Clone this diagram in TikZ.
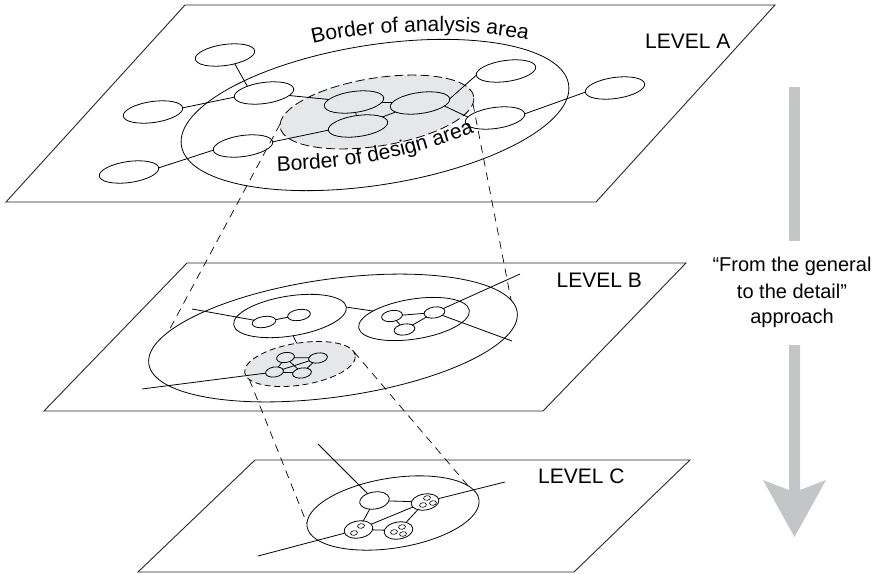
\documentclass[tikz,border=0pt]{standalone}
\usepackage{fontspec}
\setmainfont{Liberation Sans}
\usetikzlibrary{shapes.geometric,decorations.text}
\definecolor{shade}{RGB}{230,231,232}
\definecolor{arrowgray}{RGB}{196,197,199}
\begin{document}
\begin{tikzpicture}[x=1pt,y=-1pt,
  plane/.style={draw=black!85, line width=0.9pt, line join=miter},
  area/.style={ellipse, draw, line width=0.8pt, inner sep=0pt, outer sep=0pt},
  design/.style={area, dash pattern=on 9pt off 4pt, fill=shade},
  designsmall/.style={area, dash pattern=on 6pt off 3.5pt, fill=shade},
  elem/.style={ellipse, draw, line width=0.8pt, inner sep=0pt, outer sep=0pt,
               minimum width=60, minimum height=21, rotate=8},
  belem/.style={ellipse, draw, line width=0.8pt, inner sep=0pt, outer sep=0pt,
               minimum width=21, minimum height=11, rotate=9},
  celem/.style={ellipse, draw, line width=0.8pt, inner sep=0pt, outer sep=0pt,
               minimum width=29, minimum height=17, rotate=9},
  ring/.style={ellipse, draw, line width=0.6pt, inner sep=0pt, outer sep=0pt,
               minimum width=7, minimum height=4.6, rotate=9},
  link/.style={line width=0.8pt},
  proj/.style={line width=0.7pt, dash pattern=on 8pt off 6pt},
  lbl/.style={font=\fontsize{21}{25}\selectfont, inner sep=0pt},
  txt/.style={font=\fontsize{20}{24}\selectfont, inner sep=0pt},
]
\useasboundingbox (0,0) rectangle (883,573);

% ---------------- Level A ----------------
\draw[plane] (185,5) -- (775,5) -- (596,202) -- (6,202) -- cycle;
\node[lbl, anchor=base west] (labA) at (645,48) {LEVEL A};

\node[area, minimum width=392, minimum height=140, rotate=9] (AA) at (375,115) {};
\node[design, minimum width=196, minimum height=68, rotate=9] (DA) at (377,112) {};

\node[elem] (e1) at (225,55) {};
\node[elem] (e2) at (264,93) {};
\node[elem] (e3) at (153,112) {};
\node[elem] (e4) at (243,146) {};
\node[elem] (e5) at (129,172) {};
\node[elem] (d1) at (354,102) {};
\node[elem] (d2) at (420,103) {};
\node[elem] (d3) at (358,126) {};
\node[elem] (e6) at (506,71) {};
\node[elem] (e7) at (495,118) {};
\node[elem] (e8) at (615,88) {};

\draw[link] (e1.-50) -- (e2.150);
\draw[link] (e3.east) -- (e2.west);
\draw[link] (e2) -- (d1);
\draw[link] (d1) -- (d2);
\draw[link] (d1) -- (d3);
\draw[link] (d3) -- (d2);
\draw[link] (e4.east) -- (d3.west);
\draw[link] (e5.east) -- (e4.west);
\draw[link] (d2.east) -- (e6.west);
\draw[link] (d2.-15) -- (e7.170);
\draw[link] (e7.east) -- (e8.west);

\path[decorate, decoration={text along path,
  text={|\fontsize{21}{25}\selectfont|Border of analysis area}}]
  (313,44) .. controls (370,30) and (470,25) .. (540,43);
\path[decorate, decoration={text along path,
  text={|\fontsize{21}{25}\selectfont|Border of design area}}]
  (277,171) .. controls (340,169) and (395,162) .. (476,132);

% ---------------- Level B ----------------
\draw[plane] (187,263) -- (686,263) -- (543,411) -- (44,411) -- cycle;
\node[lbl, anchor=base east] (labB) at (642,287) {LEVEL B};

\node[area, minimum width=372, minimum height=118, rotate=8] (BA) at (333,338) {};
\node[designsmall, minimum width=112, minimum height=42, rotate=9] (BS) at (300,364) {};
\node[area, minimum width=114, minimum height=40, rotate=9] (BL) at (290,316) {};
\node[area, minimum width=112, minimum height=40, rotate=9] (BR) at (414,319) {};

\node[belem, minimum width=24] (l1) at (264,322) {};
\node[belem, minimum width=23] (l2) at (299,315) {};
\node[belem] (r1) at (392,316) {};
\node[belem] (r2) at (404.5,329.5) {};
\node[belem] (r3) at (434.5,312.5) {};
\node[belem, minimum width=18, minimum height=10] (s1) at (285.5,357.5) {};
\node[belem, minimum width=19, minimum height=10] (s2) at (318,358) {};
\node[belem, minimum width=18, minimum height=10] (s3) at (274.5,372) {};
\node[belem, minimum width=19, minimum height=10] (s4) at (302,373) {};

\coordinate (bin) at (192,309);
\coordinate (bout1) at (520,274);
\coordinate (bout2) at (512,341);
\coordinate (bout3) at (142,389);

\draw[link] (bin) -- (l1);
\draw[link] (l1) -- (l2);
\draw[link] (BL.east) -- (BR.160);
\draw[link] (BL.south) -- (BS.north);
\draw[link] (r1) -- (r3);
\draw[link] (r1) -- (r2);
\draw[link] (r2) -- (r3);
\draw[link] (r3) -- (bout1);
\draw[link] (r3) -- (bout2);
\draw[link] (s1) -- (s2);
\draw[link] (s1) -- (s3);
\draw[link] (s2) -- (s4);
\draw[link] (s3) -- (s4);
\draw[link] (s1) -- (s4);
\draw[link] (s2) -- (s3);
\draw[link] (s3) -- (bout3);

% ---------------- Level C ----------------
\draw[plane] (255,460) -- (690,460) -- (574,572) -- (138,572) -- cycle;
\node[lbl, anchor=base west] (labC) at (538,483) {LEVEL C};

\node[area, minimum width=174, minimum height=70, rotate=9] (CA) at (393,513) {};

\node[celem, minimum width=30] (n1) at (374.5,500.5) {};
\node[celem, minimum width=28, minimum height=16] (n2) at (425,502) {};
\node[celem] (n3) at (358.5,529.5) {};
\node[celem] (n4) at (398.5,530.5) {};

\node[ring] (n2a) at (427,498) {};
\node[ring] (n2b) at (423,505) {};
\node[ring] (n2c) at (433,503) {};
\node[ring] (n3a) at (361,526) {};
\node[ring] (n3b) at (354,533) {};
\node[ring] (n4a) at (394,532) {};
\node[ring] (n4b) at (402,527) {};
\node[ring] (n4c) at (403,534) {};

\coordinate (cout1) at (318,444);
\coordinate (cout2) at (505,482);
\coordinate (cout3) at (258,556);

\draw[link] (n1) -- (n2);
\draw[link] (n1) -- (n3);
\draw[link] (n3) -- (n4);
\draw[link] (n4) -- (n2);
\draw[link] (n3) -- (n2);
\draw[link] (n1) -- (cout1);
\draw[link] (n2) -- (cout2);
\draw[link] (n3) -- (cout3);

% ---------------- projection lines between levels ----------------
\draw[proj] (DA.178) -- (BA.170);
\draw[proj] (DA.-4) -- (BA.4);
\draw[proj] (BS.188) -- (CA.178);
\draw[proj] (BS.4) -- (CA.11);

% ---------------- direction arrow ----------------
\fill[arrowgray] (789,87) rectangle (800,241);
\fill[arrowgray] (789,345) -- (800,345) -- (800,490) -- (826,480)
  -- (794.5,537) -- (763,480) -- (789,490) -- cycle;

\node[txt, anchor=base] (q1) at (792,271) {“From the general};
\node[txt, anchor=base] (q2) at (792,298) {to the detail”};
\node[txt, anchor=base] (q3) at (792,323) {approach};
\end{tikzpicture}
\end{document}
